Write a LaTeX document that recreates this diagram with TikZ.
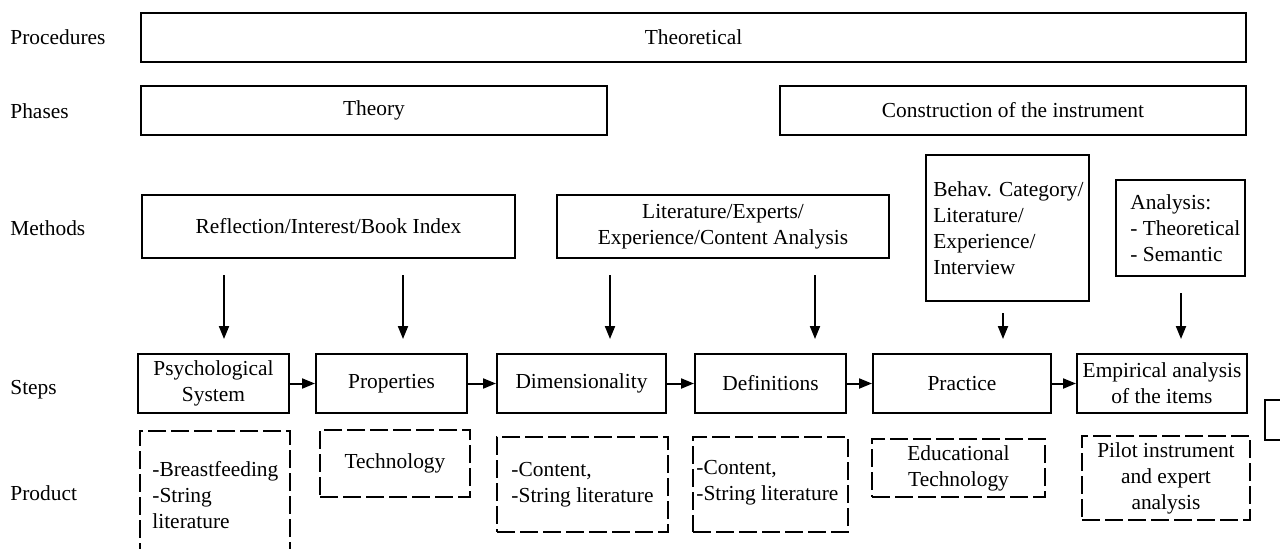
\documentclass[tikz,border=0pt]{standalone}
\usepackage{fontspec}
\setmainfont{Liberation Serif}
\usetikzlibrary{arrows.meta}

\begin{document}
\begin{tikzpicture}[
        yscale=-1,
        x=0.5pt,
        y=0.5pt,
        every node/.style={font=\fontsize{10.7}{13}\selectfont, inner sep=0pt},
        box/.style={draw, line width=1pt, align=center},
        dbox/.style={box, dash pattern=on 9pt off 2.5pt},
        lbl/.style={anchor=west},
        arr/.style={-{Triangle[length=6.5pt, width=5pt]}, line width=1pt},
        down/.style={arr, shorten >=7pt}
    ]
    \useasboundingbox (0,0) rectangle (1280,548);

    % row labels
    \node[lbl] (lproc) at (10,37) {Procedures};
    \node[lbl] (lphase) at (10,111) {Phases};
    \node[lbl] (lmeth) at (10,228) {Methods};
    \node[lbl] (lstep) at (10,390) {Steps};
    \node[lbl] (lprod) at (10,493) {Product};

    % procedures and phases
    \node[box, minimum width=552.5pt, minimum height=24.5pt] (theo) at (693.5,37.5) {Theoretical};
    \node[box, minimum width=233pt, minimum height=24.5pt] (theory) at (374,110.5) {Theory};
    \node[box, minimum width=233pt, minimum height=24.5pt] (constr) at (1013,110.5) {Construction of the instrument};

    % methods
    \node[box, minimum width=186.5pt, minimum height=31.5pt] (refl) at (328.5,226.5) {Reflection/Interest/Book Index};
    \node[box, minimum width=166pt, minimum height=31.5pt] (lit) at (723,226.5) {Literature/Experts/\\Experience/Content Analysis};
    \node[box, minimum width=81.5pt, minimum height=73pt] (behav) at (1007.5,228) {};
    \node[anchor=north west, align=left] (behavtxt) at (933,181) {Behav. Category/\\Literature/\\Experience/\\Interview};
    \node[box, minimum width=64.5pt, minimum height=48pt] (anal) at (1180.5,228) {};
    \node[anchor=west, align=left] (analtxt) at (1130,228) {Analysis:\\- Theoretical\\- Semantic};

    % steps
    \node[box, minimum width=75.5pt, minimum height=29.5pt] (psych) at (213.5,383.5) {Psychological\\System};
    \node[box, minimum width=75.5pt, minimum height=29.5pt] (prop) at (391.5,383.5) {Properties};
    \node[box, minimum width=84.5pt, minimum height=29.5pt] (dimen) at (581.5,383.5) {Dimensionality};
    \node[box, minimum width=75.5pt, minimum height=29.5pt] (defin) at (770.5,383.5) {Definitions};
    \node[box, minimum width=89pt, minimum height=29.5pt] (pract) at (962,383.5) {Practice};
    \node[box, minimum width=85pt, minimum height=29.5pt] (empir) at (1162,383.5) {Empirical analysis\\of the items};
    \node[box, minimum width=20pt, minimum height=20pt, anchor=north west] (cut) at (1264,399) {};

    \draw[arr] (psych) -- (prop);
    \draw[arr] (prop) -- (dimen);
    \draw[arr] (dimen) -- (defin);
    \draw[arr] (defin) -- (pract);
    \draw[arr] (pract) -- (empir);

    % methods feed the steps
    \coordinate (m1) at (224,275);
    \coordinate (m2) at (403,275);
    \coordinate (m3) at (610,275);
    \coordinate (m4) at (815,275);
    \coordinate (m5) at (1003,313);
    \coordinate (m6) at (1181,293);
    \draw[down] (m1) -- (m1 |- psych.north);
    \draw[down] (m2) -- (m2 |- prop.north);
    \draw[down] (m3) -- (m3 |- dimen.north);
    \draw[down] (m4) -- (m4 |- defin.north);
    \draw[down] (m5) -- (m5 |- pract.north);
    \draw[down] (m6) -- (m6 |- empir.north);

    % products
    \node[dbox, minimum width=75pt, minimum height=70pt, anchor=north west] (breast) at (139,430) {};
    \node[anchor=west, align=left] (breasttxt) at (152,495) {-Breastfeeding\\-String\\literature};
    \node[dbox, minimum width=75pt, minimum height=33.5pt] (techno) at (395,463.5) {Technology};
    \node[dbox, minimum width=85.5pt, minimum height=47.5pt, align=left] (cont1) at (582.5,484.5) {-Content,\\-String literature};
    \node[dbox, minimum width=77.5pt, minimum height=47.5pt] (cont2) at (770.5,484.5) {};
    \node[anchor=west, align=left] (cont2txt) at (696,483) {-Content,\\-String literature};
    \node[dbox, minimum width=86.5pt, minimum height=29pt] (educ) at (958.5,468) {Educational\\Technology};
    \node[dbox, minimum width=84pt, minimum height=42pt] (pilot) at (1166,478) {Pilot instrument\\and expert\\analysis};
\end{tikzpicture}
\end{document}
